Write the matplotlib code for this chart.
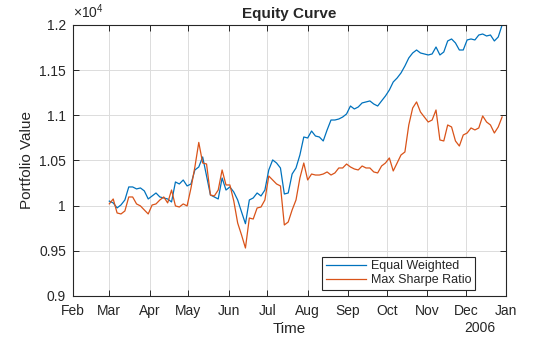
import numpy as np
import pandas as pd
import matplotlib
matplotlib.use('Agg')
from matplotlib import pyplot as plt

plt.rcParams['font.family'] = ['Liberation Sans', 'DejaVu Sans']
plt.rcParams['mathtext.fontset'] = 'custom'
plt.rcParams['mathtext.rm'] = 'Liberation Sans'

# portfolio values, sampled every 3 days from 1 Mar 2005
dates = pd.date_range('2005-03-01', periods=102, freq='3D')

equal_weighted = [
    10050, 10030, 9975, 10008, 10063, 10207, 10207, 10185, 10196, 10163,
    10074, 10107, 10140, 10096, 10085, 10074, 10041, 10262, 10240, 10284,
    10218, 10240, 10395, 10428, 10539, 10329, 10118, 10096, 10074, 10306,
    10173, 10207, 10151, 10063, 9930, 9800, 10063, 10085, 10140, 10107,
    10173, 10395, 10506, 10472, 10417, 10129, 10140, 10350, 10417, 10561,
    10760, 10749, 10826, 10771, 10760, 10716, 10838, 10948, 10948, 10959,
    10981, 11015, 11103, 11070, 11092, 11137, 11148, 11159, 11125, 11103,
    11159, 11214, 11280, 11369, 11413, 11469, 11546, 11635, 11690, 11723,
    11690, 11679, 11668, 11679, 11756, 11668, 11701, 11823, 11845, 11801,
    11723, 11723, 11834, 11845, 11834, 11889, 11900, 11878, 11889, 11823,
    11867, 12000]

max_sharpe = [
    10020, 10074, 9919, 9908, 9941, 10096, 10096, 10019, 9997, 9952,
    9908, 10007, 10019, 10063, 10096, 10030, 10173, 9997, 9985, 10019,
    9997, 10196, 10428, 10700, 10472, 10461, 10118, 10107, 10173, 10395,
    10229, 10229, 10052, 9808, 9675, 9531, 9863, 9852, 9974, 9985,
    10063, 10328, 10284, 10240, 10218, 9786, 9819, 9952, 10063, 10306,
    10472, 10284, 10350, 10339, 10339, 10350, 10373, 10339, 10362, 10417,
    10417, 10461, 10428, 10406, 10395, 10439, 10417, 10417, 10373, 10362,
    10439, 10472, 10528, 10384, 10472, 10561, 10594, 10893, 11081, 11148,
    11037, 10981, 10926, 10948, 11059, 10727, 10716, 10893, 10871, 10716,
    10660, 10782, 10804, 10860, 10838, 10860, 10993, 10926, 10893, 10804,
    10871, 10982]

month_ticks = pd.date_range('2005-02-01', '2006-01-01', freq='MS')
month_labels = ['Feb', 'Mar', 'Apr', 'May', 'Jun', 'Jul', 'Aug', 'Sep',
                'Oct', 'Nov', 'Dec', 'Jan']
y_ticks = [9000, 9500, 10000, 10500, 11000, 11500, 12000]

txt = '#262626'
fig = plt.figure(figsize=(5.6, 3.37), dpi=100)
fig.set_facecolor('white')
ax = fig.add_axes([0.1304, 0.1217, 0.7732, 0.8042])

ax.plot(dates, equal_weighted, color='#0072BD', linewidth=0.9, label='Equal Weighted')
ax.plot(dates, max_sharpe, color='#D95319', linewidth=0.9, label='Max Sharpe Ratio')

ax.set_xlim(month_ticks[0], month_ticks[-1])
ax.set_ylim(9000, 12000)
ax.set_xticks(month_ticks)
ax.set_xticklabels(month_labels)
ax.set_yticks(y_ticks)
ax.set_yticklabels(['%g' % (v / 1e4) for v in y_ticks])

ax.grid(True, color='#dcdcdc', linewidth=0.7)
ax.set_axisbelow(True)
ax.tick_params(direction='in', length=4, width=0.7, colors=txt, labelsize=10,
               top=True, right=True)
ax.tick_params(axis='x', pad=6)
ax.tick_params(axis='y', pad=5)
for s in ax.spines.values():
    s.set_color(txt)
    s.set_linewidth(0.8)

ax.set_title('Equity Curve', fontsize=11, fontweight='bold', color=txt, pad=5)
ax.set_xlabel('Time', fontsize=11, color=txt, labelpad=3)
ax.set_ylabel('Portfolio Value', fontsize=11, color=txt, labelpad=4)
ax.text(0.0, 1.015, r'$\times10^{4}$', transform=ax.transAxes, fontsize=10,
        color=txt, ha='left', va='bottom')
ax.text(0.94, -0.093, '2006', transform=ax.transAxes, fontsize=10,
        color=txt, ha='center', va='top')

leg = ax.legend(loc='lower right', bbox_to_anchor=(0.928, 0.022), borderaxespad=0,
                fontsize=9, fancybox=False, framealpha=1, edgecolor=txt,
                handlelength=3.2, handletextpad=0.4, borderpad=0.3, labelspacing=0.15)
leg.get_frame().set_linewidth(0.8)
for t in leg.get_texts():
    t.set_color(txt)

fig.savefig('out.png', dpi=100)
